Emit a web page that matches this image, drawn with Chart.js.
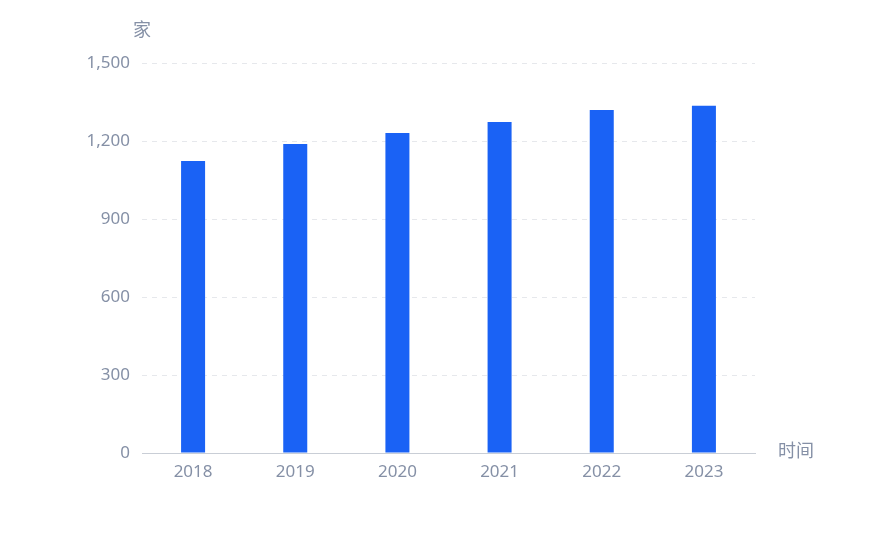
<!DOCTYPE html>
<html>
<head>
<meta charset="utf-8">
<script src="https://cdn.jsdelivr.net/npm/chart.js@4/dist/chart.umd.min.js"></script>
<style>
  html, body { margin: 0; padding: 0; background: #fff; }
  #wrap { width: 881px; height: 540px; }
</style>
</head>
<body>
<div id="wrap"><canvas id="barChart" width="881" height="540"></canvas></div>
<script>
const years = ['2018', '2019', '2020', '2021', '2022', '2023'];
const counts = [1123, 1188, 1231, 1273, 1319, 1336];
const yTicks = [0, 300, 600, 900, 1200, 1500];

const Y_UNIT = '家';
const X_UNIT = '时间';
const FONT = '"Noto Sans", "Noto Sans CJK SC", sans-serif';
const TEXTCOLOR = '#8590a6';

// axis unit labels, drawn beside the axes
const unitLabels = {
    id: 'unitLabels',
    afterDraw(chart) {
        const ctx = chart.ctx;
        const area = chart.chartArea;
        ctx.save();
        ctx.font = '18px ' + FONT;
        ctx.fillStyle = TEXTCOLOR;
        ctx.textBaseline = 'middle';
        ctx.textAlign = 'center';
        ctx.fillText(Y_UNIT, area.left, 31);
        ctx.textAlign = 'left';
        ctx.fillText(X_UNIT, area.right + 23, area.bottom - 1);
        ctx.restore();
    }
};

const config = {
    type: 'bar',
    data: {
        labels: years,
        datasets: [{
            data: counts,
            backgroundColor: '#1a62f5',
            borderWidth: 0,
            barPercentage: 0.235,
            categoryPercentage: 1.0
        }]
    },
    options: {
        responsive: false,
        animation: false,
        layout: { padding: { top: 63, right: 126, bottom: 0, left: 0 } },
        plugins: {
            legend: { display: false },
            tooltip: { enabled: false }
        },
        scales: {
            x: {
                grid: { display: false, drawTicks: false },
                border: { display: true, color: '#c9ced6', width: 1 },
                ticks: {
                    color: TEXTCOLOR,
                    font: { size: 17, family: FONT },
                    padding: 9
                },
                afterFit(scale) { scale.height = 87; }
            },
            y: {
                min: 0,
                max: 1500,
                afterBuildTicks(scale) {
                    scale.ticks = yTicks.map(v => ({ value: v }));
                },
                grid: {
                    color: '#e6e8ec',
                    drawTicks: false
                },
                border: { display: false, dash: [5, 5] },
                ticks: {
                    color: TEXTCOLOR,
                    font: { size: 17, family: FONT },
                    padding: 12,
                    callback: v => v.toLocaleString('en-US')
                },
                afterFit(scale) { scale.width = 142; }
            }
        }
    },
    plugins: [unitLabels]
};

new Chart(document.getElementById('barChart'), config);
</script>
</body>
</html>
